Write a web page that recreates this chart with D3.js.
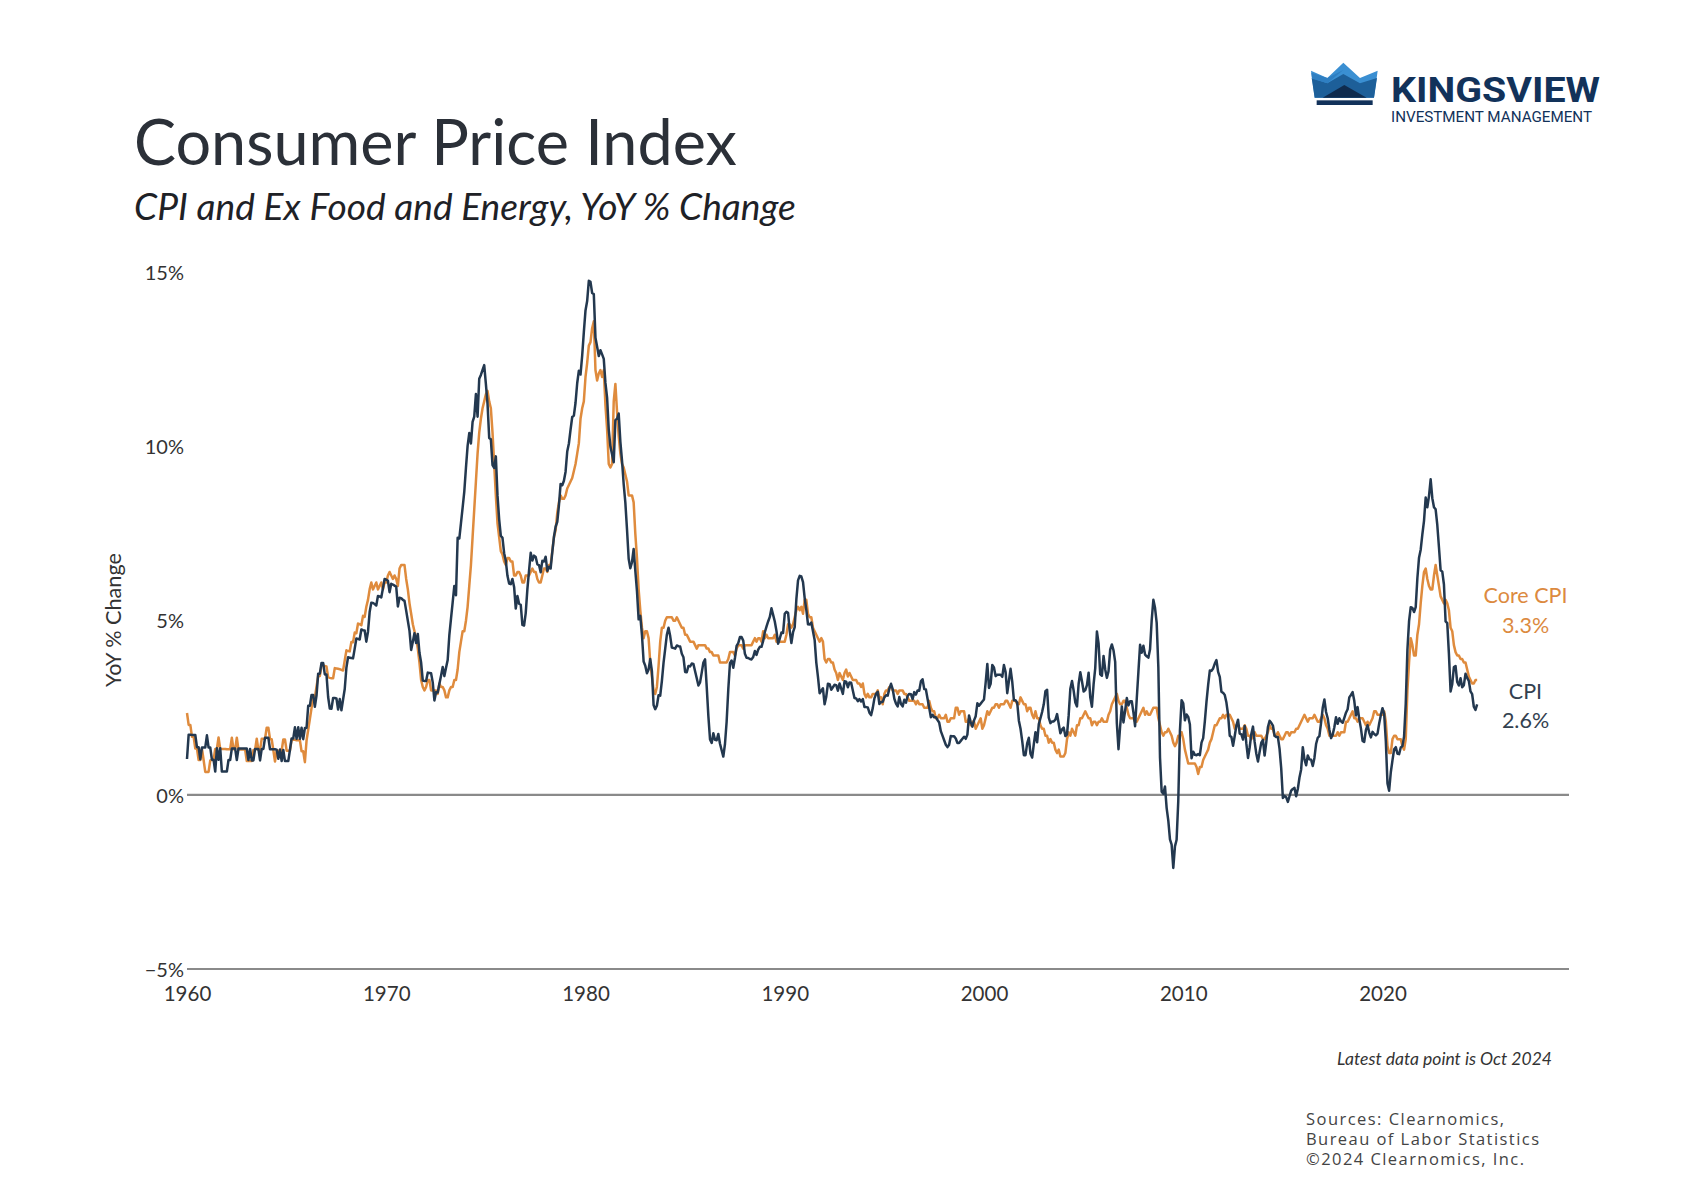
<!DOCTYPE html>
<html><head><meta charset="utf-8">
<script src="https://cdn.jsdelivr.net/npm/d3@7"></script>
<style>body{margin:0;background:#fff}</style>
</head><body>
<svg id="chart" width="1704" height="1200" xmlns="http://www.w3.org/2000/svg"></svg>
<script>
// ---------------- DATA (monthly YoY %, starting Jan 1960) ----------------
const startYear = 1960;
const cpiYoY = [
1.03,1.73,1.73,1.72,1.72,1.72,1.37,1.37,1.02,1.36,1.36,1.36,
1.71,1.36,1.36,1.01,1.01,0.67,1.34,1.01,1.34,0.67,0.67,0.67,
0.67,1.00,1.00,1.33,1.33,1.33,1.00,1.33,1.33,1.33,1.33,1.33,
1.33,1.00,1.32,0.99,0.99,1.32,1.32,1.32,0.99,1.32,1.32,1.64,
1.64,1.64,1.31,1.31,1.31,1.31,1.30,1.04,1.30,0.97,1.29,0.97,
0.97,0.97,1.29,1.62,1.62,1.94,1.61,1.94,1.61,1.93,1.60,1.92,
1.92,2.56,2.56,2.87,2.87,2.53,2.85,3.48,3.48,3.79,3.79,3.46,
3.46,2.81,2.48,2.47,2.78,2.78,2.77,2.45,2.75,2.43,2.74,3.04,
3.65,3.95,3.94,3.93,3.92,4.20,4.49,4.48,4.46,4.75,4.73,4.72,
4.40,4.68,5.25,5.52,5.51,5.48,5.44,5.71,5.70,5.67,5.93,6.20,
6.18,6.15,5.82,6.06,6.04,6.01,5.98,5.41,5.66,5.65,5.60,5.57,
5.29,5.00,4.71,4.16,4.40,4.64,4.36,4.62,4.08,3.80,3.28,3.27,
3.27,3.51,3.50,3.49,3.23,2.71,2.95,2.94,3.19,3.42,3.67,3.41,
3.65,3.87,4.59,5.06,5.53,6.00,5.73,7.38,7.36,7.80,8.25,8.71,
9.39,10.02,10.39,10.09,10.71,10.86,11.51,10.86,11.95,12.06,12.20,12.34,
11.80,11.23,10.25,10.21,9.47,9.39,9.72,8.60,7.91,7.44,7.38,6.94,
6.72,6.29,6.07,6.05,6.20,5.97,5.35,5.71,5.49,5.46,4.88,4.86,
5.22,5.91,6.44,6.95,6.73,6.87,6.83,6.62,6.60,6.39,6.72,6.70,
6.84,6.43,6.55,6.50,6.97,7.41,7.70,7.84,8.31,8.93,8.89,9.02,
9.28,9.86,10.09,10.49,10.85,10.89,11.26,11.82,12.18,12.07,12.61,13.29,
13.91,14.18,14.76,14.73,14.41,14.38,13.13,12.87,12.60,12.77,12.65,12.52,
11.83,11.41,10.49,10.00,9.78,9.55,10.76,10.80,10.95,10.14,9.59,8.92,
8.39,7.62,6.78,6.51,6.68,7.06,6.44,5.85,5.04,5.14,4.59,3.83,
3.71,3.49,3.60,3.90,3.55,2.58,2.46,2.56,2.86,2.85,3.27,3.79,
4.19,4.60,4.80,4.56,4.23,4.22,4.20,4.29,4.27,4.26,4.05,3.95,
3.53,3.52,3.70,3.69,3.77,3.76,3.55,3.35,3.14,3.23,3.51,3.80,
3.89,3.11,2.26,1.59,1.49,1.77,1.58,1.57,1.75,1.47,1.28,1.10,
1.46,2.10,3.03,3.78,3.86,3.65,3.93,4.28,4.36,4.53,4.53,4.43,
4.05,3.94,3.93,3.90,3.89,3.96,4.13,4.02,4.17,4.25,4.25,4.42,
4.67,4.83,4.98,5.11,5.36,5.17,4.98,4.71,4.34,4.49,4.66,4.65,
5.20,5.26,5.23,4.71,4.36,4.67,4.82,5.62,6.16,6.29,6.27,6.11,
5.65,5.31,4.90,4.89,4.95,4.70,4.45,3.80,3.39,2.92,2.99,3.06,
2.60,2.82,3.19,3.18,3.02,3.09,3.16,3.15,2.99,3.20,3.05,2.90,
3.26,3.25,3.09,3.23,3.22,3.00,2.78,2.77,2.69,2.75,2.68,2.75,
2.52,2.52,2.51,2.36,2.29,2.49,2.77,2.90,2.96,2.61,2.67,2.67,
2.80,2.86,2.85,3.05,3.19,3.04,2.76,2.62,2.54,2.81,2.61,2.54,
2.73,2.65,2.84,2.90,2.89,2.75,2.95,2.88,3.00,2.99,3.26,3.32,
3.04,3.03,2.76,2.50,2.23,2.30,2.23,2.23,2.15,2.08,1.83,1.70,
1.57,1.44,1.37,1.44,1.69,1.68,1.68,1.62,1.49,1.49,1.55,1.61,
1.67,1.61,1.73,2.28,2.09,1.96,2.14,2.26,2.63,2.56,2.62,2.68,
2.74,3.22,3.76,3.07,3.19,3.73,3.66,3.41,3.45,3.45,3.45,3.39,
3.73,3.53,2.92,3.27,3.62,3.25,2.72,2.72,2.65,2.13,1.90,1.55,
1.14,1.14,1.48,1.64,1.18,1.07,1.46,1.80,1.51,2.03,2.20,2.38,
2.60,2.98,3.02,2.22,2.06,2.11,2.11,2.16,2.32,2.04,1.77,1.88,
1.93,1.69,1.74,2.29,3.05,3.27,2.99,2.65,2.54,3.19,3.52,3.26,
2.97,3.01,3.15,3.51,2.80,2.53,3.17,3.64,4.69,4.35,3.46,3.42,
3.99,3.60,3.36,3.55,4.17,4.32,4.15,3.82,2.06,1.31,1.97,2.54,
2.08,2.42,2.78,2.57,2.69,2.69,2.36,1.97,2.76,3.54,4.31,4.08,
4.28,4.03,3.98,3.94,4.18,5.02,5.60,5.37,4.94,3.66,1.07,0.09,
0.03,0.24,-0.38,-0.74,-1.28,-1.43,-2.10,-1.48,-1.29,-0.18,1.84,2.72,
2.63,2.14,2.31,2.24,2.02,1.05,1.24,1.15,1.14,1.17,1.14,1.50,
1.63,2.11,2.68,3.16,3.57,3.56,3.63,3.77,3.87,3.53,3.39,2.96,
2.93,2.87,2.65,2.30,1.70,1.66,1.41,1.69,1.99,2.16,1.76,1.74,
1.59,1.98,1.47,1.06,1.36,1.75,1.96,1.52,1.18,0.96,1.24,1.50,
1.58,1.13,1.51,1.95,2.13,2.07,1.99,1.70,1.66,1.66,1.32,0.76,
-0.09,-0.03,-0.07,-0.20,-0.04,0.12,0.17,0.20,-0.04,0.17,0.50,0.73,
1.37,1.02,0.85,1.13,1.02,1.01,0.83,1.06,1.46,1.64,1.69,2.07,
2.50,2.74,2.38,2.20,1.87,1.63,1.73,1.94,2.23,2.04,2.20,2.11,
2.07,2.21,2.36,2.46,2.80,2.87,2.95,2.70,2.28,2.52,2.18,1.91,
1.55,1.52,1.86,2.00,1.79,1.65,1.81,1.75,1.71,1.76,2.05,2.29,
2.49,2.33,1.54,0.33,0.12,0.65,0.99,1.31,1.37,1.18,1.17,1.36,
1.40,1.68,2.62,4.16,4.99,5.39,5.37,5.25,5.39,6.22,6.81,7.04,
7.48,7.87,8.54,8.26,8.58,9.06,8.52,8.26,8.20,7.75,7.11,6.45,
6.41,6.04,4.98,4.93,4.05,2.97,3.18,3.67,3.70,3.24,3.14,3.35,
3.09,3.15,3.48,3.36,3.27,2.97,2.89,2.53,2.44,2.60
];
const coreYoY = [
2.35,2.01,2.01,1.67,1.67,1.33,1.33,1.00,1.00,1.33,1.00,0.66,
0.66,0.66,0.99,1.00,1.00,1.32,1.32,1.65,1.32,1.32,1.32,1.32,
1.31,1.31,1.31,1.64,1.31,1.31,1.64,1.30,1.30,1.30,1.30,1.30,
0.97,0.97,0.97,0.97,1.29,1.29,1.61,1.29,1.29,1.61,1.61,1.61,
1.93,1.93,1.60,1.60,1.28,0.96,1.27,1.27,1.27,1.27,1.59,1.59,
1.27,1.27,1.27,1.58,1.58,1.58,1.57,1.57,1.57,1.25,1.25,0.94,
1.56,1.87,2.18,2.49,2.80,2.80,3.11,3.41,3.41,3.72,3.72,3.70,
3.69,3.38,3.36,3.35,3.35,3.64,3.63,3.62,3.61,3.59,3.57,3.86,
4.15,4.13,4.12,4.39,4.38,4.66,4.64,4.92,4.90,4.87,5.14,5.11,
5.40,5.60,5.90,6.10,5.90,6.00,6.10,5.90,6.00,6.10,5.90,6.10,
6.10,6.30,6.40,6.30,6.20,6.30,6.20,6.00,6.50,6.60,6.60,6.60,
6.20,5.90,5.50,5.20,4.90,4.70,4.50,4.20,3.80,3.30,3.10,3.00,
3.10,3.30,3.30,3.00,3.00,3.00,3.00,2.90,3.20,3.10,3.10,3.00,
2.80,2.80,3.00,3.10,3.10,3.30,3.30,3.60,4.10,4.40,4.70,4.70,
5.00,5.40,6.00,6.60,7.40,8.20,9.00,9.80,10.40,10.80,11.10,11.30,
11.50,11.60,11.30,11.10,10.40,9.50,8.60,7.80,7.40,7.00,6.90,6.70,
6.60,6.80,6.80,6.70,6.70,6.30,6.30,6.40,6.40,6.30,6.10,6.10,
6.30,6.30,6.30,6.40,6.50,6.40,6.40,6.20,6.10,6.10,6.30,6.50,
6.50,6.40,6.60,6.60,7.00,7.40,7.60,8.10,8.40,8.60,8.50,8.50,
8.60,8.80,8.90,9.00,9.10,9.30,9.50,9.80,10.10,10.80,11.10,11.30,
12.00,12.40,12.90,13.00,13.40,13.60,12.20,11.90,12.10,12.20,12.00,12.20,
11.20,10.50,9.50,9.40,9.50,11.30,11.80,11.00,10.30,9.80,9.50,9.40,
9.20,9.00,8.60,8.60,8.60,8.40,7.50,6.80,5.90,5.30,4.80,4.50,
4.70,4.70,4.50,3.80,3.40,3.00,2.90,3.10,3.70,4.40,4.80,4.80,
5.00,5.10,5.10,5.10,5.10,5.00,5.00,5.10,5.00,4.90,4.80,4.80,
4.60,4.60,4.50,4.40,4.40,4.40,4.30,4.20,4.30,4.30,4.30,4.30,
4.30,4.20,4.20,4.10,4.10,4.00,4.00,4.00,4.00,3.80,3.80,3.80,
3.80,3.80,3.90,4.10,4.10,4.10,4.00,4.20,4.30,4.30,4.30,4.20,
4.30,4.30,4.30,4.30,4.30,4.40,4.50,4.40,4.50,4.50,4.40,4.70,
4.50,4.60,4.50,4.50,4.50,4.50,4.60,4.40,4.40,4.40,4.40,4.40,
4.40,4.60,4.90,4.90,4.80,4.90,5.10,5.30,5.40,5.30,5.40,5.20,
5.60,5.60,5.20,5.10,5.10,4.80,4.70,4.60,4.50,4.40,4.50,4.40,
3.90,3.80,3.90,3.90,3.80,3.80,3.60,3.50,3.30,3.50,3.40,3.30,
3.50,3.60,3.40,3.50,3.40,3.30,3.30,3.30,3.20,3.20,3.10,3.20,
2.90,2.80,2.90,2.80,2.80,2.90,2.90,2.90,3.00,2.80,2.80,2.60,
2.90,3.00,3.00,3.10,3.10,3.00,3.00,3.00,2.90,3.00,3.00,3.00,
2.90,2.90,2.80,2.70,2.70,2.70,2.70,2.60,2.70,2.60,2.60,2.60,
2.50,2.50,2.50,2.70,2.50,2.40,2.40,2.20,2.20,2.30,2.20,2.20,
2.20,2.30,2.10,2.10,2.20,2.20,2.20,2.50,2.50,2.30,2.40,2.40,
2.40,2.10,2.10,2.20,2.00,2.10,2.10,1.90,2.00,2.10,2.20,1.90,
2.00,2.20,2.40,2.30,2.40,2.50,2.50,2.60,2.60,2.50,2.60,2.60,
2.60,2.70,2.70,2.60,2.50,2.70,2.70,2.70,2.60,2.60,2.80,2.70,
2.60,2.60,2.40,2.50,2.50,2.30,2.20,2.40,2.20,2.20,2.00,1.90,
1.90,1.70,1.70,1.50,1.60,1.50,1.50,1.30,1.20,1.30,1.10,1.10,
1.10,1.20,1.60,1.80,1.70,1.90,1.80,1.70,2.00,2.00,2.20,2.20,
2.30,2.40,2.30,2.20,2.20,2.00,2.10,2.10,2.00,2.10,2.10,2.20,
2.10,2.10,2.10,2.30,2.40,2.60,2.70,2.80,2.90,2.70,2.60,2.60,
2.70,2.70,2.50,2.30,2.20,2.20,2.20,2.10,2.10,2.20,2.30,2.40,
2.50,2.30,2.40,2.30,2.30,2.40,2.50,2.50,2.50,2.20,2.00,1.80,
1.70,1.80,1.80,1.90,1.80,1.70,1.50,1.40,1.50,1.70,1.70,1.80,
1.60,1.30,1.10,0.90,0.90,0.90,0.90,0.90,0.80,0.60,0.80,0.80,
1.00,1.10,1.20,1.30,1.50,1.60,1.80,2.00,2.00,2.10,2.20,2.20,
2.30,2.20,2.30,2.30,2.30,2.20,2.10,1.90,2.00,2.00,1.90,1.90,
1.90,2.00,1.90,1.70,1.70,1.60,1.70,1.80,1.70,1.70,1.70,1.70,
1.60,1.60,1.70,1.80,2.00,1.90,1.90,1.70,1.70,1.80,1.70,1.60,
1.60,1.70,1.80,1.80,1.70,1.80,1.80,1.80,1.90,1.90,2.00,2.10,
2.20,2.30,2.20,2.10,2.20,2.20,2.20,2.30,2.20,2.10,2.10,2.20,
2.30,2.20,2.00,1.90,1.70,1.70,1.70,1.70,1.70,1.80,1.70,1.80,
1.80,1.80,2.10,2.10,2.20,2.30,2.40,2.20,2.20,2.10,2.20,2.20,
2.20,2.10,2.00,2.10,2.00,2.10,2.20,2.40,2.40,2.30,2.30,2.30,
2.30,2.40,2.10,1.40,1.20,1.20,1.60,1.70,1.70,1.60,1.60,1.60,
1.40,1.30,1.60,3.00,3.80,4.50,4.30,4.00,4.00,4.60,4.90,5.50,
6.00,6.40,6.50,6.20,6.00,5.90,5.90,6.30,6.60,6.30,6.00,5.70,
5.60,5.50,5.60,5.50,5.30,4.80,4.70,4.30,4.10,4.00,4.00,3.90,
3.90,3.80,3.80,3.60,3.40,3.30,3.20,3.20,3.30,3.30
];
const xTickYears = [1960,1970,1980,1990,2000,2010,2020];
const yTickValues = [-5,0,5,10,15];
const yTickLabels = ["\u22125%","0%","5%","10%","15%"];
const gridValues = [0,-5];
const seriesNames = ["Core CPI","CPI"];
const latestValues = ["3.3%","2.6%"];

// ---------------- CHART ----------------
const W = 1704, H = 1200;
const svg = d3.select("#chart");
svg.append("rect").attr("width",W).attr("height",H).attr("fill","#fff");

const navy = "#23384f", orange = "#df8b3d", textCol = "#2b3038";
const tickFont = "Lato, 'Open Sans', sans-serif";

const x = d3.scaleLinear().domain([1960, 2029.36]).range([187, 1569]);
const y = d3.scaleLinear().domain([-5, 15]).range([969, 272.5]);

function fitWidth(sel, target){
  const w = sel.node().getComputedTextLength();
  const fs = parseFloat(sel.attr("font-size"));
  sel.attr("font-size", fs*target/w);
}

// Title & subtitle
const title = svg.append("text").attr("x",134).attr("y",165)
  .attr("font-family","Lato, 'Open Sans', sans-serif").attr("font-size",60)
  .attr("fill",textCol).text("Consumer Price Index");
fitWidth(title, 603);
const sub = svg.append("text").attr("x",134).attr("y",219.5)
  .attr("font-family","Lato, 'Open Sans', sans-serif").attr("font-style","italic")
  .attr("font-size",38).attr("fill","#1e2126")
  .text("CPI and Ex Food and Energy, YoY % Change");
fitWidth(sub, 662);

// Logo
const logo = svg.append("g").attr("transform","translate(1290,50) scale(0.3333)");
logo.append("polygon").attr("points","63,62 112,84 160,38 210,84 263,62 252,143 74,143").attr("fill","#3a8fd2");
logo.append("polygon").attr("points","65,84 112,100 160,72 210,100 261,84 252,143 74,143").attr("fill","#1d5f99");
logo.append("polygon").attr("points","64,68 112,84 160,60 112,100 66,86").attr("fill","#2f7fc2");
logo.append("polygon").attr("points","98,143 163,105 230,143").attr("fill","#0f2b4e");
logo.append("rect").attr("x",80).attr("y",151).attr("width",168).attr("height",14).attr("fill","#12325a");
svg.append("text").attr("x",1391).attr("y",102)
  .attr("font-family","Roboto, 'DejaVu Sans', sans-serif").attr("font-weight","bold")
  .attr("font-size",35).attr("fill","#12325a")
  .attr("textLength",209).attr("lengthAdjust","spacingAndGlyphs").text("KINGSVIEW");
svg.append("text").attr("x",1391).attr("y",122)
  .attr("font-family","Roboto, 'DejaVu Sans', sans-serif")
  .attr("font-size",15).attr("fill","#12325a")
  .attr("textLength",201).attr("lengthAdjust","spacingAndGlyphs").text("INVESTMENT MANAGEMENT");

// Grid lines (0% and -5%)
svg.append("g").selectAll("line").data(gridValues).join("line")
  .attr("x1",x(1960)).attr("x2",x.range()[1])
  .attr("y1",d=>y(d)).attr("y2",d=>y(d))
  .attr("stroke","#8a8a8a").attr("stroke-width",2.2);

// Axes
const xAxis = d3.axisBottom(x).tickValues(xTickYears).tickFormat(d3.format("d"))
  .tickSize(0).tickPadding(17.5);
const gx = svg.append("g").attr("transform",`translate(0,${y(-5)})`).call(xAxis);
gx.select(".domain").remove();
gx.selectAll("text").attr("font-family",tickFont)
  .attr("font-size",20.5).attr("fill","#333");

const yAxis = d3.axisLeft(y).tickValues(yTickValues)
  .tickFormat((d,i)=>yTickLabels[i]).tickSize(0).tickPadding(3);
const gy = svg.append("g").attr("transform",`translate(${x(1960)},0)`).call(yAxis);
gy.select(".domain").remove();
gy.selectAll("text").attr("font-family",tickFont)
  .attr("font-size",20).attr("fill","#333").attr("dy","0.36em");

// Y-axis title
const yt = svg.append("text").attr("transform","translate(121,620) rotate(-90)")
  .attr("text-anchor","middle").attr("font-family","Lato, 'Open Sans', sans-serif")
  .attr("font-size",19).attr("fill","#333").text("YoY % Change");
fitWidth(yt, 134);

// Lines
const line = d3.line().x((d,i)=>x(startYear + i/12)).y(d=>y(d));
svg.append("path").datum(coreYoY).attr("d",line).attr("fill","none")
  .attr("stroke",orange).attr("stroke-width",2.5).attr("stroke-linejoin","round");
svg.append("path").datum(cpiYoY).attr("d",line).attr("fill","none")
  .attr("stroke",navy).attr("stroke-width",2.5).attr("stroke-linejoin","round");

// End labels
const lab = [
  {name:seriesNames[0], val:latestValues[0], col:"#dc8a3f", y1:603, y2:633},
  {name:seriesNames[1], val:latestValues[1], col:"#33414f", y1:698.5, y2:727.5}
];
lab.forEach(l=>{
  svg.append("text").attr("x",1525.5).attr("y",l.y1).attr("text-anchor","middle")
    .attr("font-family","Lato, 'Open Sans', sans-serif").attr("font-size",21.5)
    .attr("fill",l.col).text(l.name);
  svg.append("text").attr("x",1525.5).attr("y",l.y2).attr("text-anchor","middle")
    .attr("font-family","Lato, 'Open Sans', sans-serif").attr("font-size",21.5)
    .attr("fill",l.col).text(l.val);
});

// Footer
svg.append("text").attr("x",1552).attr("y",1065).attr("text-anchor","end")
  .attr("font-family","Lato, 'Open Sans', sans-serif").attr("font-style","italic")
  .attr("font-size",17.5).attr("fill","#333")
  .attr("textLength",215).attr("lengthAdjust","spacingAndGlyphs")
  .text("Latest data point is Oct 2024");
const src = [["Sources: Clearnomics,",198,1124.5],["Bureau of Labor Statistics",233,1144.5],["\u00A92024 Clearnomics, Inc.",218,1164.5]];
src.forEach(s=>{
  svg.append("text").attr("x",1306).attr("y",s[2])
    .attr("font-family","'Open Sans', 'Noto Sans', sans-serif").attr("font-size",16.5)
    .attr("fill","#444").attr("textLength",s[1]).attr("lengthAdjust","spacing").text(s[0]);
});
</script>
</body></html>
